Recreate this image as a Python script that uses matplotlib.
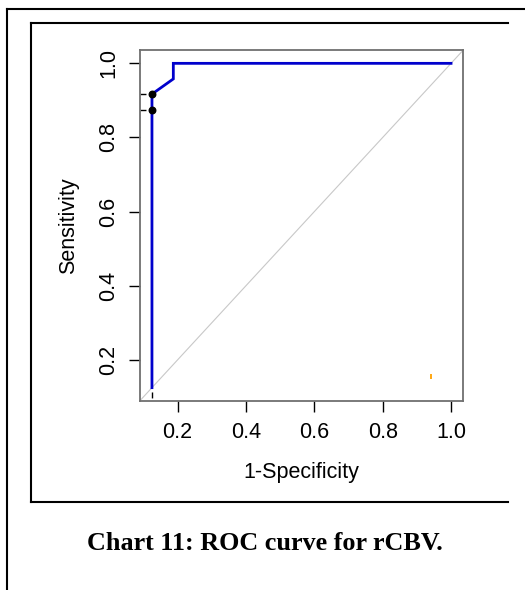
import matplotlib
matplotlib.use("Agg")
import matplotlib.pyplot as plt
from matplotlib.lines import Line2D

# ROC curve for rCBV (1-specificity vs sensitivity)
fpr = [0.125, 0.125, 0.125, 0.1875, 0.1875, 1.0]
tpr = [0.125, 0.875, 0.917, 0.958, 1.0, 1.0]

# marked cut-off points on the curve
cut_x = [0.125, 0.125]
cut_y = [0.875, 0.917]

# small orange marker near the lower right corner
mark_x = [0.94, 0.94]
mark_y = [0.149, 0.161]

xticks = [0.2, 0.4, 0.6, 0.8, 1.0]
yticks = [0.2, 0.4, 0.6, 0.8, 1.0]
caption = "Chart 11: ROC curve for rCBV."

plt.rcParams["font.family"] = ["Liberation Sans", "DejaVu Sans"]

fig = plt.figure(figsize=(5.25, 5.9), dpi=100)
fig.patch.set_facecolor("white")

ax = fig.add_axes([140 / 525, 1 - 401 / 590, 323 / 525, 351 / 590])
ax.set_xlim(0.09, 1.035)
ax.set_ylim(0.089, 1.036)

# chance diagonal
ax.axline((0, 0), (1, 1), color="#c8c8c8", lw=0.8, zorder=1)

ax.plot(fpr, tpr, color="#0000cc", lw=2.0, zorder=3,
        solid_joinstyle="miter")
ax.scatter(cut_x, cut_y, s=22, color="black", zorder=4)

# dashed guides from cut-offs and curve start to the axes
x0, y0 = ax.get_xlim()[0], ax.get_ylim()[0]
for yy in cut_y:
    ax.plot([x0, cut_x[0]], [yy, yy], color="black", lw=1.0,
            linestyle=(0, (4.3, 3.0)), zorder=2)
ax.plot([fpr[0], fpr[0]], [y0, tpr[0]], color="black", lw=1.0,
        linestyle=(5.1, (4.3, 3.0)), zorder=2)

ax.plot(mark_x, mark_y, color="#ffa000", lw=1.3, zorder=2,
        solid_capstyle="butt")

ax.set_xticks(xticks)
ax.set_yticks(yticks)
ax.set_xticklabels([f"{v:.1f}" for v in xticks])
ax.set_yticklabels([f"{v:.1f}" for v in yticks], rotation=90, va="center")
ax.tick_params(axis="both", length=8, width=1.0, color="black",
               labelsize=15.5, pad=7)
for sp in ax.spines.values():
    sp.set_color("#707070")
    sp.set_linewidth(1.3)

ax.set_xlabel("1-Specificity", fontsize=15.5, labelpad=14)
ax.set_ylabel("Sensitivity", fontsize=15.5, labelpad=14)

# page frames around the figure
def frame_line(xs, ys):
    fig.add_artist(Line2D([x / 525 for x in xs], [1 - y / 590 for y in ys],
                          color="black", lw=1.5,
                          transform=fig.transFigure))

frame_line([7, 525], [9, 9])
frame_line([7, 7], [9, 590])
frame_line([31, 508], [23, 23])
frame_line([31, 31], [23, 502])
frame_line([31, 508], [502, 502])

fig.text(265 / 525, 1 - 543 / 590, caption, ha="center", va="center",
         fontsize=18.8, fontweight="bold",
         family=["Liberation Serif", "DejaVu Serif"])

fig.savefig("out.png", dpi=100)
